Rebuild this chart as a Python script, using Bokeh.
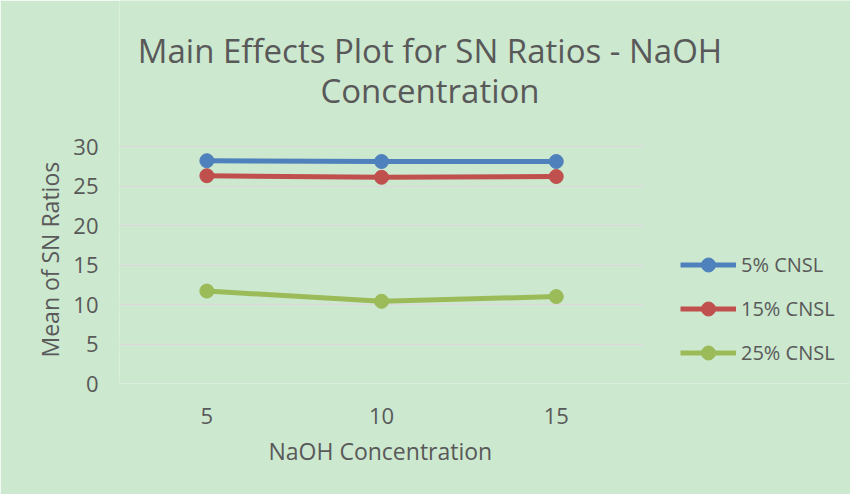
from bokeh.plotting import figure
from bokeh.models import Range1d, Title, Label, Legend, LegendItem, FixedTicker
from bokeh.embed import file_html
from bokeh.resources import INLINE

categories = ["5", "10", "15"]
cnsl_5 = [28.2, 28.1, 28.1]
cnsl_15 = [26.3, 26.1, 26.2]
cnsl_25 = [11.7, 10.4, 11.0]
series_names = ["5% CNSL", "15% CNSL", "25% CNSL"]
colors = ["#4F81BD", "#C0504D", "#9BBB59"]
y_ticks = [0, 5, 10, 15, 20, 25, 30]

FONT = "Open Sans"
TXT = "#595959"
BG = "#CCE8CF"

xpos = list(range(len(categories)))

# frame spans plot area plus title/legend space (top & right)
FRAME_W = 850 - 119
FRAME_H = 383
PX_PER_CAT = 174.7
PX_PER_UNIT = 237 / 30
p = figure(width=850, height=494,
           x_range=Range1d(-0.5, -0.5 + FRAME_W / PX_PER_CAT),
           y_range=Range1d(0, FRAME_H / PX_PER_UNIT),
           output_backend="svg", toolbar_location=None,
           min_border_left=119, min_border_right=0, min_border_top=0, min_border_bottom=111)
p.background_fill_color = BG
p.border_fill_color = BG
p.outline_line_color = None

p.xgrid.grid_line_color = None
p.ygrid.grid_line_color = "#D9D9D9"
p.ygrid.grid_line_width = 1.5
p.ygrid.cross_bounds = (-0.5, len(categories) - 0.5)
p.yaxis.ticker = FixedTicker(ticks=y_ticks)
p.xaxis.ticker = FixedTicker(ticks=xpos)
p.xaxis.major_label_overrides = {i: c for i, c in zip(xpos, categories)}

for ax in (p.xaxis[0], p.yaxis[0]):
    ax.axis_line_color = None
    ax.major_tick_line_color = None
    ax.minor_tick_line_color = None
    ax.major_label_text_font = FONT
    ax.major_label_text_color = TXT
    ax.major_label_text_font_size = "22px"

p.xaxis.major_label_standoff = 18
p.yaxis.major_label_standoff = 15

items = []
for name, vals, c in zip(series_names, [cnsl_5, cnsl_15, cnsl_25], colors):
    l = p.line(xpos, vals, line_color=c, line_width=5)
    s = p.scatter(xpos, vals, size=14, fill_color=c, line_color=c)
    items.append(LegendItem(label=name, renderers=[l, s]))

legend = Legend(items=items, location=(561, 13), padding=0, margin=0,
                border_line_color=None, background_fill_alpha=0,
                glyph_width=56, glyph_height=35, label_height=35, spacing=9,
                label_standoff=5, label_text_font=FONT, label_text_color=TXT,
                label_text_font_size="20px")
p.add_layout(legend, "center")

for txt, yy in (("Main Effects Plot for SN Ratios - NaOH", 333), ("Concentration", 293)):
    p.add_layout(Label(x=310.5, y=yy, x_units="screen", y_units="screen", text=txt,
                       text_align="center", text_baseline="middle", text_font=FONT,
                       text_font_size="33px", text_color=TXT))

# axis titles, positioned relative to the plot area
p.add_layout(Title(text="NaOH Concentration", align="left", offset=149, standoff=13,
                   text_font=FONT, text_font_size="23px", text_font_style="normal",
                   text_color=TXT), "below")
p.add_layout(Title(text="Mean of SN Ratios", align="left", offset=26, standoff=10,
                   text_font=FONT, text_font_size="23px", text_font_style="normal",
                   text_color=TXT), "left")

open("out.html", "w").write(file_html(p, INLINE))
